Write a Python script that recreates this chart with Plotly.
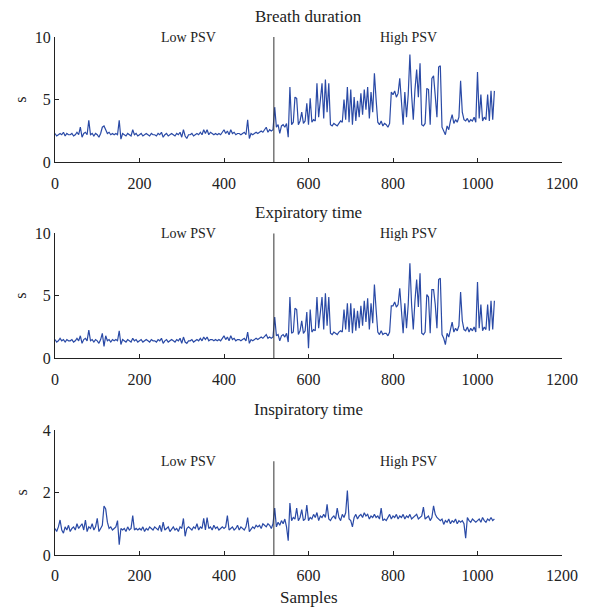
import plotly.graph_objects as go

SAMPLES = list(range(0, 1041, 4))

BREATH = [
    2.3, 2.1, 2.2, 2.3, 2.2, 2.4, 2.1, 2.3, 2.2, 2.2,
    2.3, 2.1, 2.2, 2.4, 2.2, 2.8, 2.0, 2.3, 2.4, 2.2,
    3.35, 2.2, 2.3, 2.1, 2.3, 2.2, 2.0, 2.3, 2.8, 2.9,
    2.6, 2.3, 2.4, 2.2, 2.3, 2.2, 2.3, 2.2, 3.35, 1.85,
    2.3, 2.2, 2.1, 2.3, 2.2, 2.1, 2.6, 2.2, 2.3, 2.1,
    2.2, 2.3, 2.1, 2.2, 2.3, 2.2, 2.1, 2.3, 2.2, 2.2,
    2.1, 2.3, 2.2, 2.4, 2.0, 2.2, 2.3, 2.1, 2.2, 2.3,
    2.2, 2.1, 2.3, 2.2, 2.4, 2.0, 2.6, 2.1, 1.9, 2.2,
    2.2, 2.3, 2.1, 2.2, 2.3, 2.2, 2.4, 2.2, 2.6, 2.3,
    2.6, 2.2, 2.4, 2.3, 2.2, 2.3, 2.2, 2.3, 2.2, 2.4,
    2.6, 2.3, 2.5, 2.2, 2.6, 2.3, 2.4, 2.2, 2.3, 2.3,
    2.2, 2.3, 2.4, 2.2, 3.4, 1.9, 2.3, 2.2, 2.3, 2.4,
    2.3, 2.4, 2.5, 2.4, 2.6, 2.8, 2.4, 2.6, 2.5, 2.6,
    4.4, 2.8, 3.0, 2.3, 2.9, 3.0, 2.8, 3.1, 2.0, 6.0,
    3.0, 3.2, 5.2, 5.1, 3.0, 3.3, 4.0, 3.1, 3.3, 4.7,
    3.0, 5.1, 3.2, 3.4, 3.3, 6.3, 3.6, 5.3, 6.3, 3.5,
    6.6, 4.0, 6.3, 3.0, 2.9, 3.1, 3.0, 2.9, 3.1, 3.3,
    3.2, 5.0, 3.4, 6.0, 3.2, 5.8, 3.0, 5.2, 3.3, 4.9,
    3.6, 5.5, 3.8, 5.8, 4.2, 6.0, 3.5, 5.6, 4.0, 7.1,
    5.0, 3.2, 3.0, 3.3, 2.9, 3.1, 3.0, 2.8, 3.1, 5.6,
    5.4, 5.7, 5.2, 5.5, 6.7, 5.0, 3.0, 5.6, 3.6, 5.4,
    8.6, 5.4, 3.4, 5.8, 7.4, 5.2, 7.9, 3.0, 2.9, 3.1,
    5.9, 5.8, 3.0, 6.7, 6.9, 5.3, 3.6, 7.6, 7.7, 2.8,
    2.5, 2.2, 2.9, 2.6, 3.3, 3.8, 3.1, 3.4, 3.2, 3.6,
    6.5, 4.0, 3.4, 3.3, 3.5, 3.2, 3.4, 3.3, 3.6, 3.2,
    7.2, 3.5, 5.4, 3.3, 3.6, 3.4, 5.4, 3.3, 5.7, 3.4,
    5.7,
]

EXPIRATORY = [
    1.5, 1.3, 1.4, 1.6, 1.4, 1.5, 1.3, 1.5, 1.4, 1.4,
    1.5, 1.3, 1.4, 1.6, 1.4, 1.8, 1.2, 1.5, 1.6, 1.4,
    2.25, 1.4, 1.5, 1.3, 1.5, 1.4, 1.2, 1.5, 2.0, 0.95,
    1.8, 1.4, 1.5, 1.3, 1.5, 1.4, 1.5, 1.4, 2.2, 1.1,
    1.5, 1.4, 1.3, 1.5, 1.4, 1.3, 1.6, 1.4, 1.5, 1.3,
    1.4, 1.5, 1.3, 1.4, 1.5, 1.4, 1.3, 1.5, 1.4, 1.4,
    1.3, 1.5, 1.4, 1.6, 1.2, 1.4, 1.5, 1.3, 1.4, 1.5,
    1.4, 1.3, 1.5, 1.4, 1.6, 1.2, 1.7, 1.3, 1.2, 1.4,
    1.4, 1.5, 1.3, 1.4, 1.5, 1.4, 1.6, 1.4, 1.7, 1.5,
    1.7, 1.4, 1.5, 1.5, 1.4, 1.5, 1.4, 1.5, 1.4, 1.6,
    1.8, 1.5, 1.7, 1.4, 1.8, 1.5, 1.6, 1.4, 1.5, 1.5,
    1.4, 1.5, 1.6, 1.4, 2.1, 1.2, 1.5, 1.4, 1.5, 1.6,
    1.5, 1.6, 1.7, 1.6, 1.8, 1.9, 1.6, 1.7, 1.6, 1.7,
    3.3, 1.8, 1.9, 1.4, 1.8, 1.9, 1.7, 2.0, 1.3, 4.9,
    2.0, 2.1, 4.0, 3.9, 1.9, 2.2, 3.0, 2.0, 2.2, 3.7,
    0.8, 3.9, 2.1, 2.3, 2.2, 4.9, 2.4, 4.0, 4.9, 2.3,
    5.2, 2.6, 4.9, 2.0, 1.9, 2.1, 2.0, 1.9, 2.1, 2.2,
    2.1, 3.9, 2.3, 4.4, 2.1, 4.4, 2.0, 4.0, 2.2, 3.8,
    2.4, 4.2, 2.6, 4.6, 2.9, 4.8, 2.3, 4.4, 2.8, 5.9,
    3.9, 2.1, 1.9, 2.2, 1.9, 2.0, 2.0, 1.8, 2.1, 4.2,
    4.2, 4.5, 4.1, 4.3, 5.6, 3.9, 2.0, 4.4, 2.4, 4.3,
    7.6, 4.3, 2.3, 4.6, 6.3, 4.1, 6.8, 2.0, 1.9, 2.1,
    5.1, 4.9, 2.0, 5.5, 5.5, 4.3, 2.4, 6.3, 6.4, 1.9,
    1.6, 1.1, 2.0, 1.7, 2.3, 2.9, 2.1, 2.4, 2.2, 2.6,
    5.3, 3.0, 2.3, 2.2, 2.5, 2.1, 2.4, 2.2, 2.5, 2.1,
    6.1, 2.4, 4.3, 2.2, 2.5, 2.3, 4.3, 2.2, 4.6, 2.3,
    4.6,
]

INSPIRATORY = [
    0.85, 0.75, 0.9, 1.12, 0.8, 0.7, 0.9, 0.8, 0.95, 0.75,
    0.85, 0.9, 0.8, 1.0, 0.85, 0.95, 1.0, 0.8, 1.12, 0.75,
    0.9, 0.85, 1.0, 0.8, 0.9, 1.17, 0.75, 0.85, 0.95, 1.57,
    1.47, 1.05, 0.85, 0.9, 0.8, 0.85, 0.9, 1.1, 0.33, 0.85,
    0.8, 0.85, 0.75, 0.9, 0.8, 0.85, 1.26, 0.8, 0.85, 0.8,
    0.85, 0.8, 0.9, 0.75, 0.85, 0.8, 0.9, 0.85, 0.8, 0.9,
    0.85, 0.8, 0.95, 0.75, 1.05, 0.8, 0.85, 0.9, 0.75, 0.85,
    0.9, 0.8, 0.85, 0.75, 0.9, 0.85, 1.17, 0.6, 0.85, 0.9,
    0.85, 0.8, 0.9, 0.85, 1.0, 0.8, 0.9, 0.85, 1.17, 0.8,
    1.2, 0.85, 0.9, 0.8, 0.95, 0.85, 0.9, 0.8, 0.85, 0.9,
    0.85, 0.9, 1.26, 0.8, 0.85, 0.9, 0.8, 0.85, 0.95, 0.8,
    0.9, 0.85, 0.8, 0.9, 1.2, 0.75, 0.85, 0.9, 0.85, 0.95,
    0.9, 0.95, 0.85, 1.0, 0.95, 0.9, 1.0, 0.95, 0.85, 1.0,
    1.5, 0.9, 1.05, 0.95, 1.1, 1.0, 1.15, 0.9, 0.46, 1.66,
    1.1, 1.2, 1.15, 1.5, 1.1, 1.2, 1.45, 1.1, 1.15, 1.6,
    1.1, 1.2, 1.15, 1.3, 1.2, 1.36, 1.1, 1.25, 1.2, 1.3,
    1.2, 1.62, 1.15, 1.1, 1.2, 1.25, 1.15, 1.5, 1.2, 1.1,
    1.3, 1.2, 1.35, 2.06, 1.15, 1.1, 0.9, 1.2, 1.3, 1.15,
    1.25, 1.3, 1.2, 1.35, 1.25, 1.3, 1.15, 1.25, 1.2, 1.3,
    1.2, 1.25, 1.15, 1.5, 1.1, 1.15, 1.1, 1.2, 1.3, 1.15,
    1.25, 1.2, 1.3, 1.15, 1.25, 1.2, 1.3, 1.15, 1.25, 1.2,
    1.3, 1.15, 1.2, 1.25, 1.3, 1.15, 1.2, 1.25, 1.53, 1.15,
    1.2, 1.25, 1.1, 1.2, 1.57, 1.3, 1.2, 1.15, 1.1, 1.15,
    0.98, 1.1, 1.05, 1.15, 1.0, 1.1, 1.05, 1.15, 1.0, 1.1,
    1.05, 1.1, 1.0, 0.54, 1.2, 1.1, 1.05, 1.15, 1.1, 1.05,
    1.1, 1.15, 1.05, 1.2, 1.1, 1.05, 1.15, 1.1, 1.2, 1.1,
    1.15,
]

PANEL_TITLES = ["Breath duration", "Expiratory time", "Inspiratory time"]
Y_MAX = [10, 10, 4]
Y_TICKS = [[0, 5, 10], [0, 5, 10], [0, 2, 4]]
X_TICKS = [0, 200, 400, 600, 800, 1000, 1200]
SWITCH_SAMPLE = 518
SWITCH_TOP = [10, 10, 3]
LABEL_Y = [10, 10, 3]
LOW_LABEL_X = 315
HIGH_LABEL_X = 837
Y_LABEL = "s"
X_LABEL = "Samples"

SERIES = [BREATH, EXPIRATORY, INSPIRATORY]

W, H = 590, 610
M_L, M_R, M_T, M_B = 55, 26, 37, 55
PH = H - M_T - M_B
# pixel rows of each panel (top, bottom)
PANEL_PX = [(37, 162.3), (233.3, 358.3), (430, 555)]

FONT = "Liberation Serif, Times New Roman, serif"
LINE_BLUE = "#2a4aa6"
AX_COL = "#222222"

fig = go.Figure()
layout = dict(
    width=W, height=H,
    margin=dict(l=M_L, r=M_R, t=M_T, b=M_B),
    paper_bgcolor="white", plot_bgcolor="white",
    showlegend=False,
    font=dict(family=FONT, size=16, color="#222222"),
)
annotations = []
for i in range(3):
    k = "" if i == 0 else str(i + 1)
    top, bot = PANEL_PX[i]
    d0 = (H - M_B - bot) / PH
    d1 = (H - M_B - top) / PH
    fig.add_trace(go.Scatter(
        x=SAMPLES, y=SERIES[i], mode="lines",
        line=dict(color=LINE_BLUE, width=1.2),
        xaxis="x" + k, yaxis="y" + k, hoverinfo="skip",
    ))
    fig.add_trace(go.Scatter(
        x=[SWITCH_SAMPLE, SWITCH_SAMPLE], y=[0, SWITCH_TOP[i]], mode="lines",
        line=dict(color="#333333", width=1),
        xaxis="x" + k, yaxis="y" + k, hoverinfo="skip",
    ))
    layout["xaxis" + k] = dict(
        domain=[0, 1], anchor="y" + k, range=[0, 1200],
        tickvals=X_TICKS, ticks="inside", ticklen=4, tickcolor=AX_COL,
        showline=True, linecolor=AX_COL, linewidth=1, showgrid=False,
        zeroline=False, tickfont=dict(size=16), ticklabelstandoff=6,
    )
    layout["yaxis" + k] = dict(
        domain=[d0, d1], anchor="x" + k, range=[0, Y_MAX[i]],
        tickvals=Y_TICKS[i], ticks="inside", ticklen=4, tickcolor=AX_COL,
        showline=True, linecolor=AX_COL, linewidth=1, showgrid=False,
        zeroline=False, tickfont=dict(size=16),
    )
    annotations.append(dict(
        text=PANEL_TITLES[i], xref="paper", yref="paper", x=0.5, y=d1,
        xanchor="center", yanchor="bottom", yshift=9, showarrow=False,
        font=dict(size=17),
    ))
    annotations.append(dict(
        text="Low PSV", xref="x" + k, yref="y" + k, x=LOW_LABEL_X, y=LABEL_Y[i],
        xanchor="center", yanchor="middle", showarrow=False, font=dict(size=14),
    ))
    annotations.append(dict(
        text="High PSV", xref="x" + k, yref="y" + k, x=HIGH_LABEL_X, y=LABEL_Y[i],
        xanchor="center", yanchor="middle", showarrow=False, font=dict(size=14),
    ))
    annotations.append(dict(
        text=Y_LABEL, xref="paper", yref="paper", x=0, y=(d0 + d1) / 2,
        xanchor="center", yanchor="middle", xshift=-34, textangle=-90,
        showarrow=False, font=dict(size=16),
    ))

annotations.append(dict(
    text=X_LABEL, xref="paper", yref="paper", x=0.5, y=0,
    xanchor="center", yanchor="middle", yshift=-42, showarrow=False,
    font=dict(size=17),
))
layout["annotations"] = annotations
fig.update_layout(**layout)
fig.write_html(
    "out.html",
    config={"displayModeBar": False, "staticPlot": True},
    post_script="document.body.style.margin='0px';document.body.style.padding='0px';",
)
